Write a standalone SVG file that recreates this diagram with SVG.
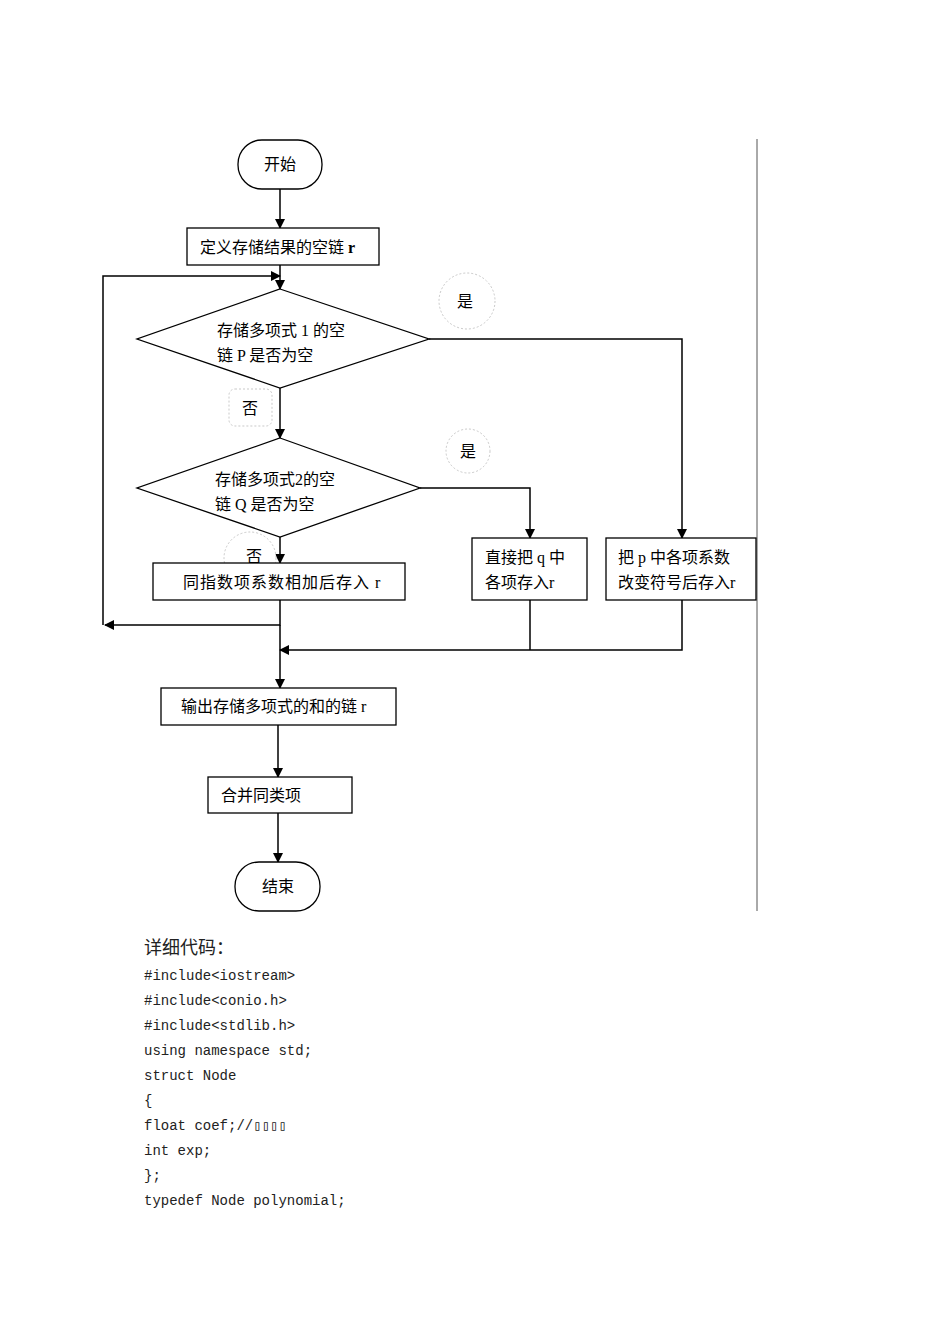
<svg xmlns="http://www.w3.org/2000/svg" width="950" height="1344" viewBox="0 0 950 1344">
<defs>
<marker id="ah" markerWidth="10" markerHeight="10" refX="9" refY="5" orient="auto" markerUnits="userSpaceOnUse"><path d="M0,0 L10,5 L0,10 z" fill="#000"/></marker>
<style>
.s{fill:#fff;stroke:#000;stroke-width:1.3}
.c{fill:none;stroke:#000;stroke-width:1.5}
.t{font-family:"Liberation Serif","Noto Sans CJK SC",serif;font-size:16px;fill:#000}
.d{fill:#fff;stroke:#bbb;stroke-width:0.8;stroke-dasharray:2,2}
.m{font-family:"Liberation Mono","Noto Sans CJK SC",monospace;font-size:14px;fill:#222}
</style>
</defs>
<rect width="950" height="1344" fill="#fff"/>
<line x1="757" y1="139" x2="757" y2="911" stroke="#555" stroke-width="1"/>
<g id="connectors">
<line class="c" x1="280" y1="189" x2="280" y2="228" marker-end="url(#ah)"/>
<line class="c" x1="280" y1="265" x2="280" y2="289" marker-end="url(#ah)"/>
<polyline class="c" points="280,600 280,625 105,625" marker-end="url(#ah)"/>
<polyline class="c" points="103,625 103,276 280,276" marker-end="url(#ah)"/>
<polyline class="c" points="429,339 682,339 682,538" marker-end="url(#ah)"/>
<line class="c" x1="280" y1="388" x2="280" y2="438" marker-end="url(#ah)"/>
<polyline class="c" points="420,488 530,488 530,538" marker-end="url(#ah)"/>
<line class="c" x1="280" y1="537" x2="280" y2="563" marker-end="url(#ah)"/>
<line class="c" x1="280" y1="625" x2="280" y2="688" marker-end="url(#ah)"/>
<line class="c" x1="530" y1="600" x2="530" y2="650"/>
<polyline class="c" points="682,600 682,650 280,650" marker-end="url(#ah)"/>
<line class="c" x1="278" y1="725" x2="278" y2="777" marker-end="url(#ah)"/>
<line class="c" x1="278" y1="813" x2="278" y2="862" marker-end="url(#ah)"/>
</g>
<g id="start"><rect class="s" x="238" y="140" width="84" height="49" rx="24"/><text class="t" x="280" y="170" text-anchor="middle">开始</text></g>
<g id="init"><rect class="s" x="187" y="228" width="192" height="37"/><text class="t" x="200" y="253">定义存储结果的空链 <tspan font-weight="bold">r</tspan></text></g>
<g id="d1"><polygon class="s" points="280,289 429,339 280,388 137,339"/><text class="t" x="217" y="336">存储多项式 1 的空</text><text class="t" x="217" y="361">链 P 是否为空</text></g>
<g id="yes1"><circle class="d" cx="467" cy="301" r="28"/><text class="t" x="465" y="307" text-anchor="middle">是</text></g>
<g id="no1"><rect class="d" x="229" y="389" width="43" height="37" rx="6"/><text class="t" x="250" y="414" text-anchor="middle">否</text></g>
<g id="d2"><polygon class="s" points="280,438 420,488 280,537 137,488"/><text class="t" x="215" y="485">存储多项式2的空</text><text class="t" x="215" y="510">链 Q 是否为空</text></g>
<g id="yes2"><circle class="d" cx="468" cy="451" r="22"/><text class="t" x="468" y="457" text-anchor="middle">是</text></g>
<g id="no2"><circle class="d" cx="250" cy="558" r="26"/><text class="t" x="254" y="562" text-anchor="middle">否</text></g>
<g id="add"><rect class="s" x="153" y="563" width="252" height="37"/><text class="t" x="183" y="588" letter-spacing="1">同指数项系数相加后存入 r</text></g>
<g id="q"><rect class="s" x="472" y="538" width="115" height="62"/><text class="t" x="485" y="563">直接把 q 中</text><text class="t" x="485" y="588">各项存入r</text></g>
<g id="p"><rect class="s" x="606" y="538" width="150" height="62"/><text class="t" x="618" y="563">把 p 中各项系数</text><text class="t" x="618" y="588">改变符号后存入r</text></g>
<g id="out"><rect class="s" x="161" y="688" width="235" height="37"/><text class="t" x="181" y="712">输出存储多项式的和的链 r</text></g>
<g id="merge"><rect class="s" x="208" y="777" width="144" height="36"/><text class="t" x="221" y="801">合并同类项</text></g>
<g id="end"><rect class="s" x="235" y="862" width="85" height="49" rx="24"/><text class="t" x="278" y="892" text-anchor="middle">结束</text></g>
<text x="144" y="954" font-family="Noto Sans CJK SC,sans-serif" font-size="18" fill="#222">详细代码：</text>
<text class="m" x="144" y="980">#include&lt;iostream&gt;</text>
<text class="m" x="144" y="1005">#include&lt;conio.h&gt;</text>
<text class="m" x="144" y="1030">#include&lt;stdlib.h&gt;</text>
<text class="m" x="144" y="1055">using namespace std;</text>
<text class="m" x="144" y="1080">struct Node</text>
<text class="m" x="144" y="1105">{</text>
<text class="m" x="144" y="1130">float coef;//▯▯▯▯</text>
<text class="m" x="144" y="1155">int exp;</text>
<text class="m" x="144" y="1180">};</text>
<text class="m" x="144" y="1205">typedef Node polynomial;</text>
</svg>
